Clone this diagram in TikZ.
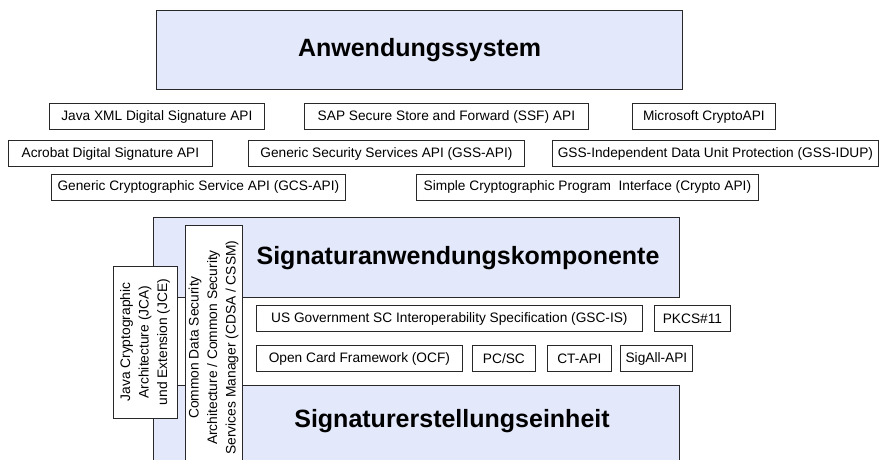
\documentclass[tikz,border=0pt]{standalone}
\usepackage{fontspec}
\setmainfont{Liberation Sans}
\definecolor{layerblue}{RGB}{227,232,250}
\definecolor{edgegray}{RGB}{40,40,40}
\begin{document}
\begin{tikzpicture}[x=1pt,y=-1pt,
  api/.style={draw=edgegray, line width=0.8pt, fill=white, inner xsep=2pt, inner ysep=0pt,
    minimum height=26pt, minimum width=#1, font=\fontsize{13.7}{16}\selectfont, anchor=west},
  layer/.style={draw=edgegray, line width=1.2pt, fill=layerblue, inner sep=0pt, anchor=north west},
  title/.style={font=\bfseries\fontsize{25}{30}\selectfont},
  vbox/.style={draw=edgegray, line width=0.8pt, fill=white, rotate=90, align=center, inner sep=0pt,
    font=\fontsize{13.8}{18.5}\selectfont}]
\useasboundingbox (0,0) rectangle (885,459);
% layers
\node[layer, minimum width=526pt, minimum height=79pt, title] (anw) at (156,10) {Anwendungssystem};
\node[layer, minimum width=526pt, minimum height=80pt] (sak) at (153,217) {};
\node[title] (saklabel) at (458,258) {Signaturanwendungskomponente};
\node[layer, minimum width=526pt, minimum height=100pt] (see) at (153,385) {};
\node[title] (seelabel) at (452,421) {Signaturerstellungseinheit};
% vertical boxes
\node[vbox, minimum width=245pt, minimum height=57pt] (cdsa) at (213.5,347.5)
  {Common Data Security\\Architecture / Common Security\\Services Manager (CDSA / CSSM)};
\node[vbox, minimum width=152pt, minimum height=64pt] (jca) at (145,342)
  {Java Cryptographic\\Architecture (JCA)\\und Extension (JCE)};
% upper APIs
\node[api=215pt] (java) at (49,116.5) {Java XML Digital Signature API};
\node[api=284pt] (sap) at (304,116.5) {SAP Secure Store and Forward (SSF) API};
\node[api=143pt] (ms) at (632,116.5) {Microsoft CryptoAPI};
\node[api=204pt] (acro) at (8,153.5) {Acrobat Digital Signature API};
\node[api=276pt] (gss) at (248,153.5) {Generic Security Services API (GSS-API)};
\node[api=326pt] (idup) at (552,153.5) {GSS-Independent Data Unit Protection (GSS-IDUP)};
\node[api=294pt] (gcs) at (51,187) {Generic Cryptographic Service API (GCS-API)};
\node[api=342pt] (simple) at (416,187) {Simple Cryptographic Program\ \ Interface (Crypto API)};
% lower APIs
\node[api=386pt] (gsc) at (256,318.5) {US Government SC Interoperability Specification (GSC-IS)};
\node[api=76pt] (pkcs) at (654,318.5) {PKCS\#11};
\node[api=206pt] (ocf) at (256,358.5) {Open Card Framework (OCF)};
\node[api=63pt] (pcsc) at (472,358.5) {PC/SC};
\node[api=64pt] (ctapi) at (547,358.5) {CT-API};
\node[api=72pt] (sigall) at (620,358.5) {SigAll-API};
\end{tikzpicture}
\end{document}
